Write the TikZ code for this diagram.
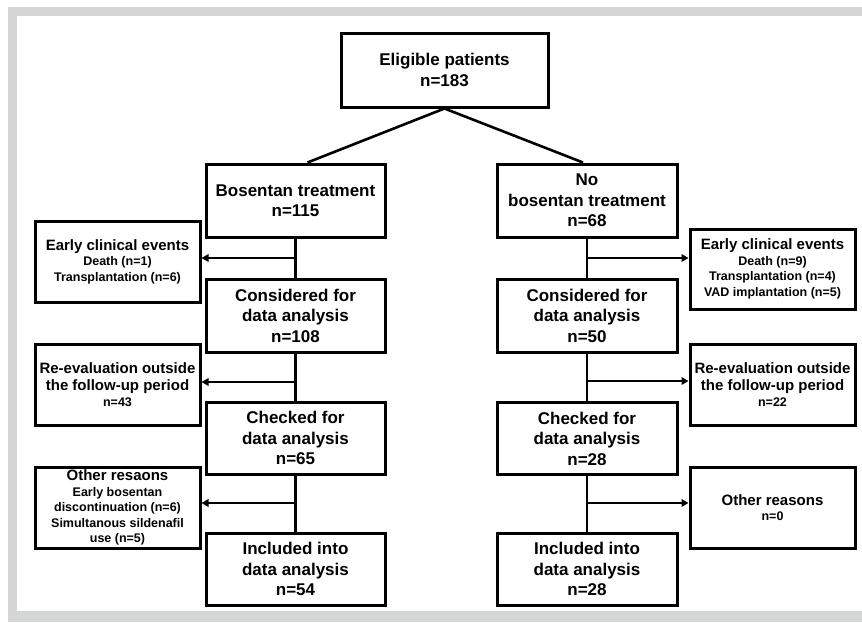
\documentclass[tikz,border=0pt]{standalone}
\usepackage{fontspec}
\setmainfont{Liberation Sans}
\usetikzlibrary{arrows.meta}
\definecolor{framegray}{RGB}{212,213,215}
\newcommand{\sidehead}[1]{{\fontsize{15}{17}\selectfont #1}}

\begin{document}
\begin{tikzpicture}[x=1pt,y=-1pt,
    mainbox/.style={draw,line width=3pt,minimum width=179pt,minimum height=73pt,
      inner sep=0pt,align=center,font=\bfseries\fontsize{17}{20.5}\selectfont},
    sidebox/.style={draw,line width=3pt,minimum width=165pt,minimum height=81pt,
      inner sep=0pt,align=center,font=\bfseries\fontsize{12.5}{15.5}\selectfont},
    link/.style={line width=2.6pt},
    arr/.style={link,-{Triangle[length=7pt,width=7.5pt]}}]
    \useasboundingbox (0,0) rectangle (862,622);
    % frame
    \fill[framegray] (8,7) rectangle (862,16);
    \fill[framegray] (8,7) rectangle (17,622);
    \fill[framegray] (8,611) rectangle (862,622);
    % main column
    \node[mainbox,minimum width=207pt,minimum height=74pt] (elig) at (444.5,70) {Eligible patients\\n=183};
    \node[mainbox] (bos) at (295.5,200.5) {Bosentan treatment\\n=115};
    \node[mainbox,minimum width=180pt] (nobos) at (587,200.5) {No\\bosentan treatment\\n=68};
    \node[mainbox] (consL) at (295.5,315.5) {Considered for\\data analysis\\n=108};
    \node[mainbox,minimum width=180pt] (consR) at (587,315.5) {Considered for\\data analysis\\n=50};
    \node[mainbox,minimum height=72pt] (checkL) at (295.5,438) {Checked for\\data analysis\\n=65};
    \node[mainbox,minimum width=180pt,minimum height=72pt] (checkR) at (587,438.5) {Checked for\\data analysis\\n=28};
    \node[mainbox,minimum height=72pt] (inclL) at (295.5,569) {Included into\\data analysis\\n=54};
    \node[mainbox,minimum width=180pt,minimum height=72pt] (inclR) at (587,569) {Included into\\data analysis\\n=28};
    % side boxes
    \node[sidebox] (evL) at (117.5,261.5) {\sidehead{Early clinical events}\\Death (n=1)\\Transplantation (n=6)};
    \node[sidebox,minimum height=80pt] (evR) at (772.5,269) {\sidehead{Early clinical events}\\Death (n=9)\\Transplantation (n=4)\\VAD implantation (n=5)};
    \node[sidebox] (reL) at (117.5,384.5) {\sidehead{Re-evaluation outside}\\[1.5pt]\sidehead{the follow-up period}\\[1pt]n=43};
    \node[sidebox] (reR) at (772.5,384.5) {\sidehead{Re-evaluation outside}\\[1.5pt]\sidehead{the follow-up period}\\[1pt]n=22};
    \node[sidebox] (othL) at (117.5,507.5) {\sidehead{Other resaons}\\Early bosentan\\discontinuation (n=6)\\Simultanous sildenafil\\use (n=5)};
    \node[sidebox] (othR) at (772.5,507.5) {\sidehead{Other reasons}\\n=0};
    % branches
    \draw[link] (elig.south) -- ([xshift=12pt]bos.north);
    \draw[link] (elig.south) -- ([xshift=-4pt]nobos.north);
    \draw[link] (bos) -- (consL);
    \draw[link] (consL) -- (checkL);
    \draw[link] (checkL) -- (inclL);
    \draw[link] (nobos) -- (consR);
    \draw[link] (consR) -- (checkR);
    \draw[link] (checkR) -- (inclR);
    % exclusions
    \coordinate (tL1) at (bos.south |- 0,258);
    \coordinate (tL2) at (bos.south |- 0,382);
    \coordinate (tL3) at (bos.south |- 0,503);
    \coordinate (tR1) at (nobos.south |- 0,258);
    \coordinate (tR2) at (nobos.south |- 0,381);
    \coordinate (tR3) at (nobos.south |- 0,503);
    \draw[arr] (tL1) -- (tL1 -| evL.east);
    \draw[arr] (tL2) -- (tL2 -| reL.east);
    \draw[arr] (tL3) -- (tL3 -| othL.east);
    \draw[arr] (tR1) -- (tR1 -| evR.west);
    \draw[arr] (tR2) -- (tR2 -| reR.west);
    \draw[arr] (tR3) -- (tR3 -| othR.west);
\end{tikzpicture}
\end{document}
